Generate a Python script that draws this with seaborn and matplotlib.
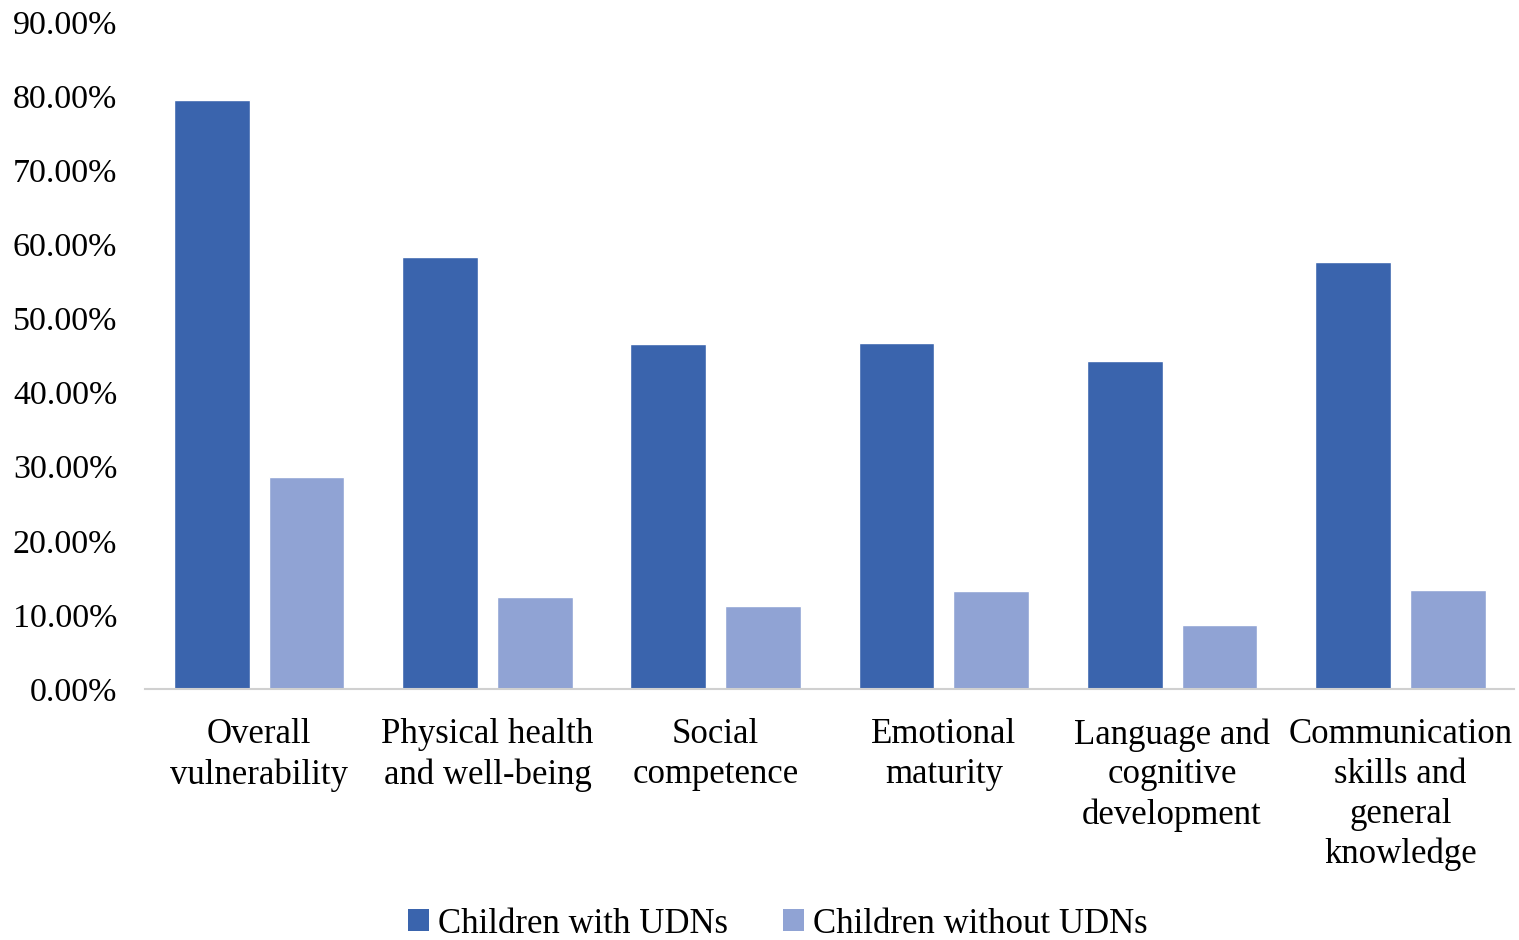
import matplotlib
matplotlib.use("Agg")
import matplotlib.pyplot as plt
import seaborn as sns
import pandas as pd
from matplotlib.ticker import FuncFormatter, MultipleLocator
from matplotlib.patches import Patch

categories = [
    "Overall\nvulnerability",
    "Physical health\nand well-being",
    "Social\ncompetence",
    "Emotional\nmaturity",
    "Language and\ncognitive\ndevelopment",
    "Communication\nskills and\ngeneral\nknowledge",
]
groups = ["Children with UDNs", "Children without UDNs"]
with_udns = [0.795, 0.583, 0.465, 0.467, 0.443, 0.576]
without_udns = [0.286, 0.124, 0.112, 0.132, 0.086, 0.134]

colors = ["#3A64AD", "#90A3D4"]

df = pd.DataFrame({
    "category": categories * 2,
    "group": [groups[0]] * len(categories) + [groups[1]] * len(categories),
    "value": with_udns + without_udns,
})

sns.set_theme(style="white")
plt.rcParams["font.family"] = ["Liberation Serif", "DejaVu Serif"]
plt.rcParams["text.color"] = "black"

fig = plt.figure(figsize=(15.19, 9.4), dpi=100)
ax = fig.add_axes([0.0955, 0.267, 0.9015, 0.7096])

sns.barplot(data=df, x="category", y="value", hue="group", order=categories,
            hue_order=groups, palette=colors, width=0.83, gap=0.2,
            saturation=1, ax=ax, legend=False)

ax.set_xlim(-0.5, len(categories) - 0.5)
ax.set_ylim(0, 0.9)
ax.yaxis.set_major_locator(MultipleLocator(0.1))
ax.yaxis.set_major_formatter(FuncFormatter(lambda v, _: f"{v * 100:.2f}%"))
ax.set_xlabel("")
ax.set_ylabel("")
ax.tick_params(axis="both", length=0, labelsize=24.5, colors="black")
ax.tick_params(axis="x", pad=21)
ax.tick_params(axis="y", pad=20)
for lbl in ax.get_xticklabels():
    lbl.set_fontsize(25)
    lbl.set_linespacing(1.27)

for side in ["top", "right", "left"]:
    ax.spines[side].set_visible(False)
ax.spines["bottom"].set_color("#D0D0D0")
ax.spines["bottom"].set_linewidth(1.5)

handles = [Patch(facecolor=c, edgecolor="none") for c in colors]
fig.legend(handles, groups, loc="lower center", bbox_to_anchor=(0.512, -0.034),
           ncol=2, frameon=False, fontsize=25, labelcolor="black",
           handlelength=0.6, handleheight=0.6, handletextpad=0.25,
           columnspacing=1.6)

fig.savefig("out.png", dpi=100)
